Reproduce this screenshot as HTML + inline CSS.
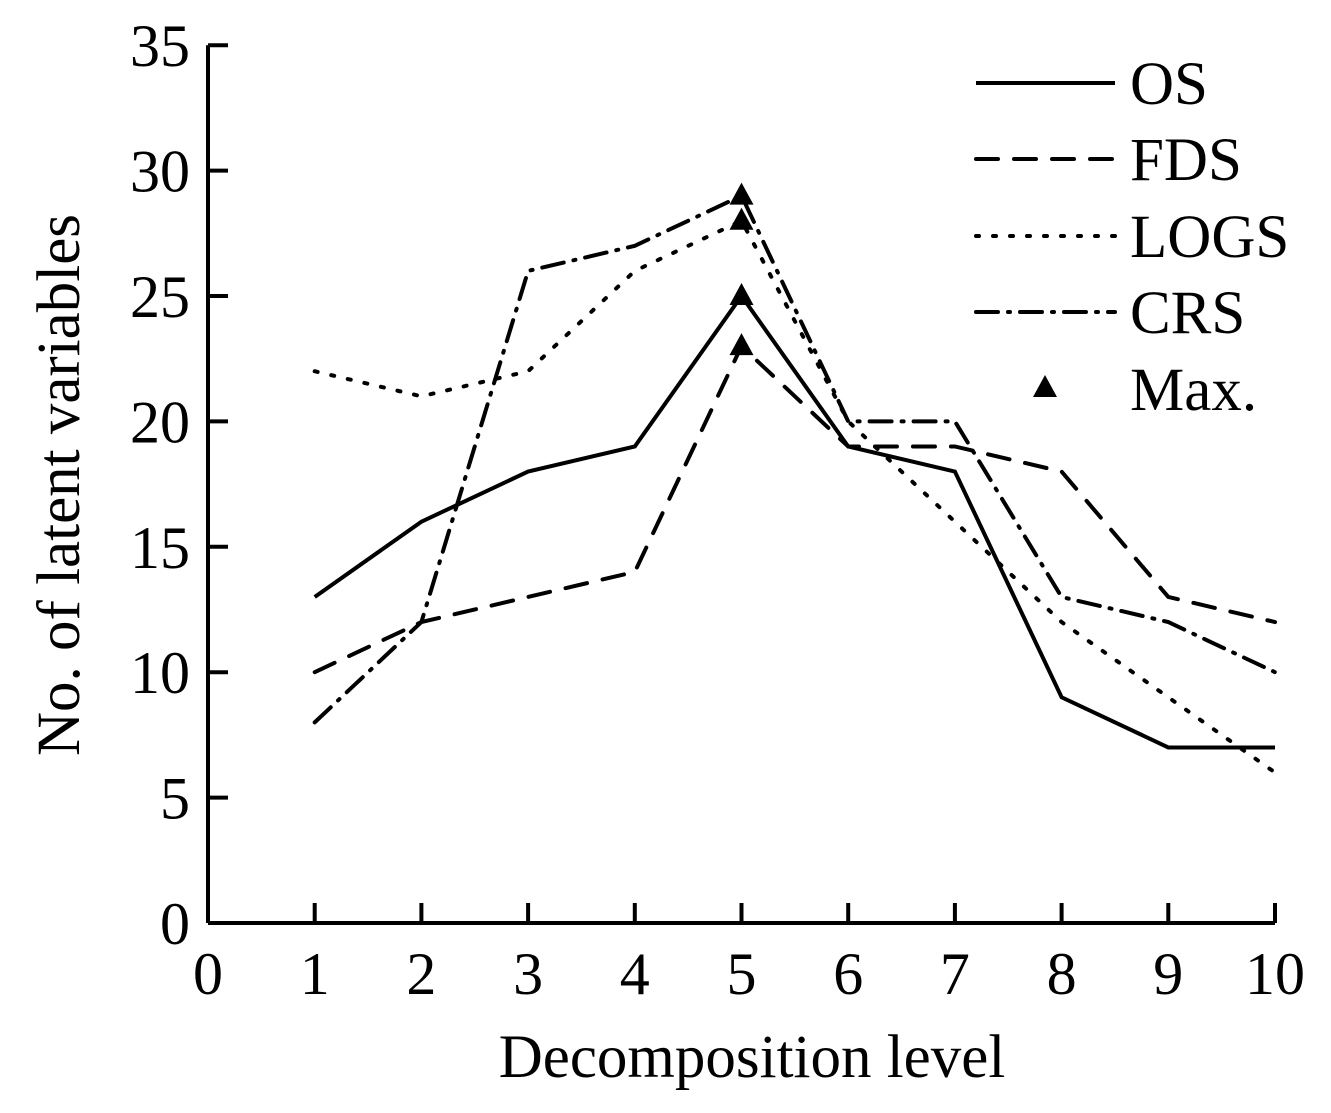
<!DOCTYPE html>
<html><head><meta charset="utf-8"><style>
body{margin:0;background:#fff}
svg{display:block;font-family:"Liberation Serif",serif}
</style></head><body>
<svg id="chart" width="1331" height="1113"></svg>
<script>
const categories=[1,2,3,4,5,6,7,8,9,10];
const osValues=[13,16,18,19,25,19,18,9,7,7];
const fdsValues=[10,12,13,14,23,19,19,18,13,12];
const logsValues=[22,21,22,26,28,20,16,12,9,6];
const crsValues=[8,12,26,27,29,20,20,13,12,10];
const maxValues=[29,28,25,23];
const maxLevel=5;
const xTicks=[0,1,2,3,4,5,6,7,8,9,10];
const yTicks=[0,5,10,15,20,25,30,35];
const seriesNames=["OS","FDS","LOGS","CRS"];

const NS="http://www.w3.org/2000/svg";
const svg=document.getElementById('chart');
const X=v=>208+v*106.7;
const Y=v=>923-v*25.08;
function mk(tag,at,parent){const e=document.createElementNS(NS,tag);for(const k in at)e.setAttribute(k,at[k]);(parent||svg).appendChild(e);return e;}

const axes=mk('g',{});


mk('line',{x1:X(0),y1:Y(0),x2:X(10),y2:Y(0),stroke:'#000','stroke-width':4},axes);
mk('line',{x1:X(0),y1:Y(0),x2:X(0),y2:Y(35),stroke:'#000','stroke-width':4},axes);
xTicks.forEach(t=>{
  mk('line',{x1:X(t),y1:Y(0),x2:X(t),y2:Y(0)-20,stroke:'#000','stroke-width':4},axes);
  const tx=mk('text',{x:X(t),y:994,'font-size':60,'text-anchor':'middle'},axes);
  tx.textContent=t;
  
  
});
yTicks.forEach(t=>{
  mk('line',{x1:X(0),y1:Y(t),x2:X(0)+20,y2:Y(t),stroke:'#000','stroke-width':4},axes);
  const tx=mk('text',{x:190,y:Y(t)+21,'font-size':60,'text-anchor':'end'},axes);
  tx.textContent=t;
  
  
});
const xt=mk('text',{x:752,y:1077,'font-size':61,'text-anchor':'middle'});
xt.textContent='Decomposition level';


const yt=mk('text',{x:0,y:0,'font-size':61,'text-anchor':'middle',transform:'translate(79,485) rotate(-90)'});
yt.textContent='No. of latent variables';



const styles=[{d:'none'},{d:'22,16'},{d:'3,14'},{d:'22,10,2,10'}];
const all=[osValues,fdsValues,logsValues,crsValues];
all.forEach((vals,i)=>{
  const p=mk('polyline',{points:vals.map((v,j)=>X(categories[j])+','+Y(v)).join(' '),fill:'none',stroke:'#000','stroke-width':4,'stroke-linecap':i?'round':'butt','stroke-dasharray':styles[i].d});
  
  
});
function tri(cx,cy,parent){return mk('polygon',{points:`${cx},${cy-13} ${cx-12},${cy+9} ${cx+12},${cy+9}`,fill:'#000'},parent);}
maxValues.forEach(v=>{
  const t=tri(X(maxLevel),Y(v));
  
  
});

const legend=mk('g',{});


const ly=[83,159,236,312];
seriesNames.forEach((n,i)=>{
  const g=mk('g',{},legend);
  
  
  mk('line',{x1:976,y1:ly[i],x2:1115,y2:ly[i],stroke:'#000','stroke-width':4,'stroke-linecap':i?'round':'butt','stroke-dasharray':styles[i].d},g);
  const t=mk('text',{x:1130,y:ly[i]+21,'font-size':61},g);
  t.textContent=n;
});
const gm=mk('g',{},legend);


tri(1045,388,gm);
const tm=mk('text',{x:1130,y:410,'font-size':61},gm);
tm.textContent='Max.';
</script>
</body></html>
